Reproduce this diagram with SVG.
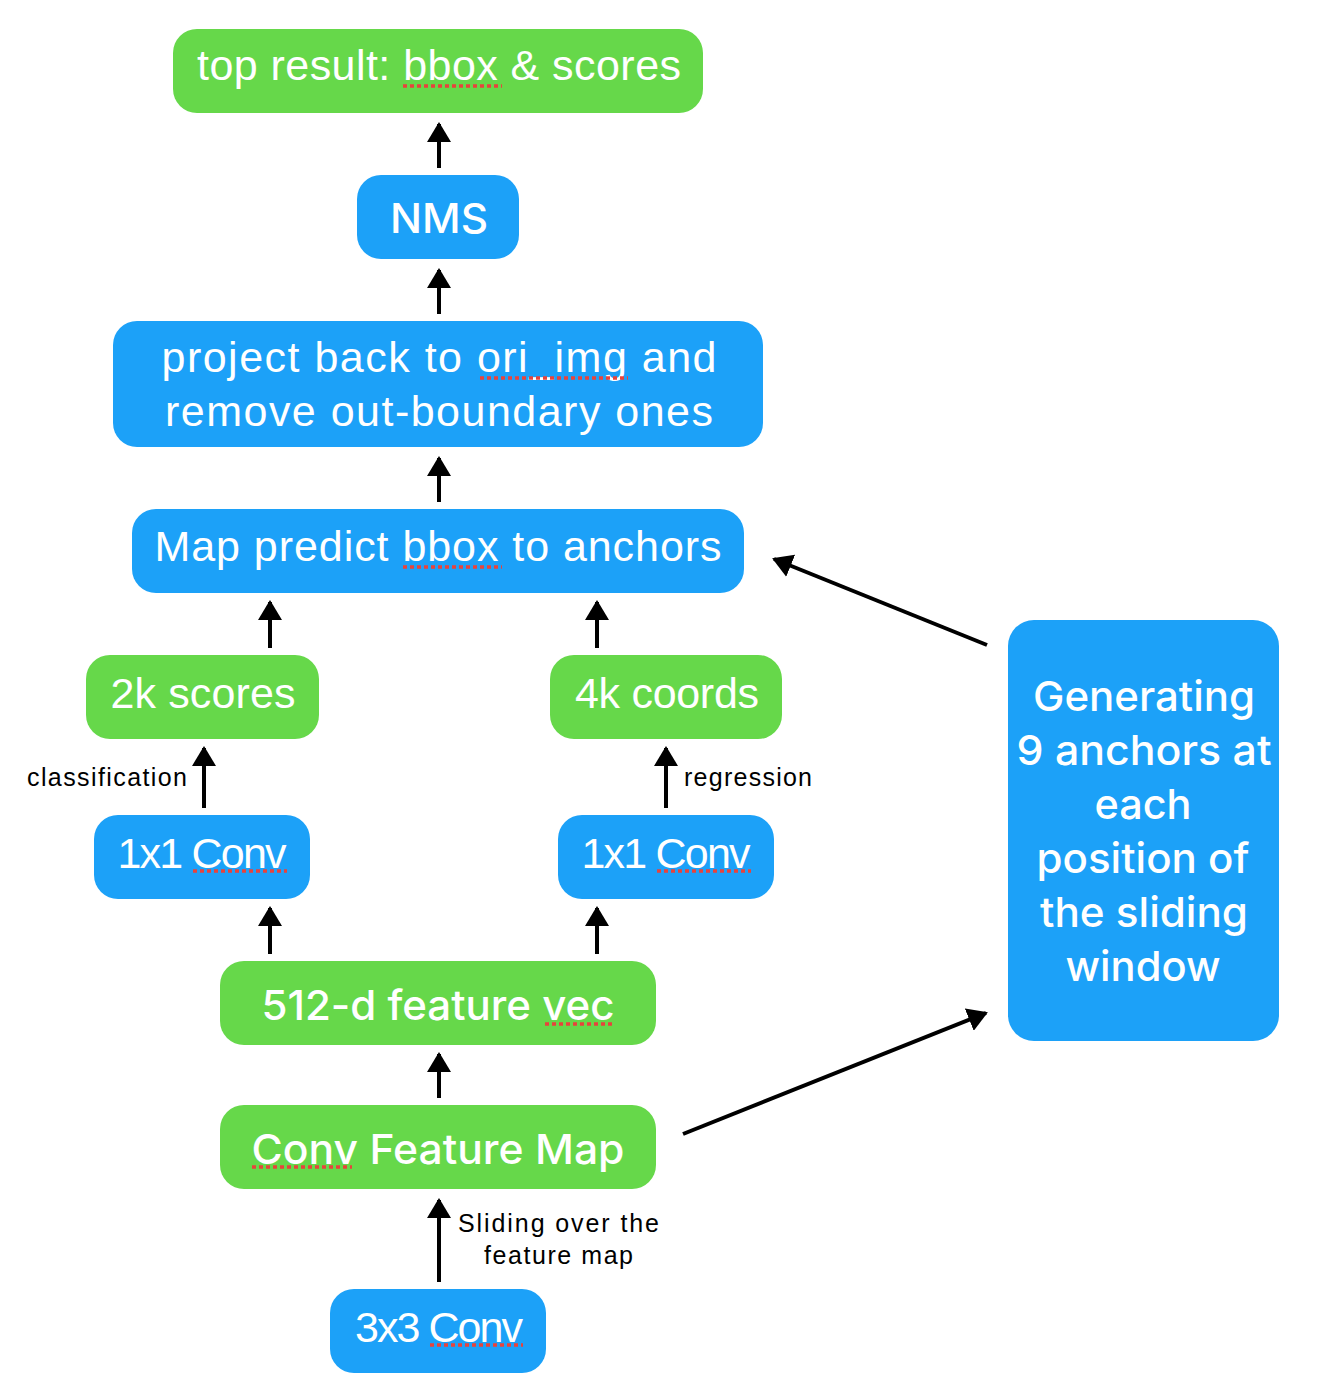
<svg xmlns="http://www.w3.org/2000/svg" width="1342" height="1394" viewBox="0 0 1342 1394">
<defs>
<style>
.g{fill:#66d84a}
.b{fill:#1ca1f8}
.t{font-family:"Liberation Sans",Arial,sans-serif;font-size:43px;fill:#fff;text-anchor:middle}
.m{font-family:Inter,"Liberation Sans",Arial,sans-serif;font-size:41px;font-weight:500;fill:#fff;text-anchor:middle}
.s{font-family:"Liberation Sans",Arial,sans-serif;font-size:25px;fill:#000}
.c{stroke:#000;stroke-width:4;fill:none}
.u{stroke:#e8433c;stroke-width:3.5;stroke-dasharray:4 3;fill:none}
</style>
<marker id="ah" markerWidth="6" markerHeight="6" refX="4.5" refY="3" orient="auto" markerUnits="strokeWidth">
<path d="M0,0 L5,3 L0,6 z" fill="#000"/>
</marker>
</defs>
<rect width="1342" height="1394" fill="#fff"/>
<g id="connectors">
<line class="c" x1="439" y1="168" x2="439" y2="124" marker-end="url(#ah)"/>
<line class="c" x1="439" y1="314" x2="439" y2="270" marker-end="url(#ah)"/>
<line class="c" x1="439" y1="502" x2="439" y2="458" marker-end="url(#ah)"/>
<line class="c" x1="270" y1="648" x2="270" y2="602" marker-end="url(#ah)"/>
<line class="c" x1="597" y1="648" x2="597" y2="602" marker-end="url(#ah)"/>
<line class="c" x1="204" y1="808" x2="204" y2="748" marker-end="url(#ah)"/>
<line class="c" x1="666" y1="808" x2="666" y2="748" marker-end="url(#ah)"/>
<line class="c" x1="270" y1="954" x2="270" y2="908" marker-end="url(#ah)"/>
<line class="c" x1="597" y1="954" x2="597" y2="908" marker-end="url(#ah)"/>
<line class="c" x1="439" y1="1098" x2="439" y2="1054" marker-end="url(#ah)"/>
<line class="c" x1="439" y1="1282" x2="439" y2="1200" marker-end="url(#ah)"/>
<line class="c" x1="987" y1="645" x2="774" y2="559" marker-end="url(#ah)"/>
<line class="c" x1="683" y1="1134" x2="986" y2="1013" marker-end="url(#ah)"/>
<text class="s" x="27" y="786" textLength="160" lengthAdjust="spacing">classification</text>
<text class="s" x="684" y="786" textLength="128" lengthAdjust="spacing">regression</text>
<text class="s" x="458" y="1232" textLength="201" lengthAdjust="spacing">Sliding over the</text>
<text class="s" x="484" y="1264" textLength="149" lengthAdjust="spacing">feature map</text>
</g>
<g id="n-top">
<rect class="g" x="173" y="29" width="530" height="84" rx="24"/>
<text class="t" x="439" y="80" textLength="484" lengthAdjust="spacing">top result: bbox &amp; scores</text>
<line class="u" x1="403" y1="86" x2="502" y2="86"/>
</g>
<g id="n-nms">
<rect class="b" x="357" y="175" width="162" height="84" rx="24"/>
<text class="m" x="439" y="233" textLength="98" lengthAdjust="spacingAndGlyphs">NMS</text>
</g>
<g id="n-project">
<rect class="b" x="113" y="321" width="650" height="126" rx="24"/>
<text class="t" x="439" y="372" textLength="555" lengthAdjust="spacing">project back to ori_img and</text>
<text class="t" x="439" y="426" textLength="548" lengthAdjust="spacing">remove out-boundary ones</text>
<line class="u" x1="480" y1="378" x2="628" y2="378"/>
</g>
<g id="n-map">
<rect class="b" x="132" y="509" width="612" height="84" rx="24"/>
<text class="t" x="438" y="561" textLength="567" lengthAdjust="spacing">Map predict bbox to anchors</text>
<line class="u" x1="403" y1="567" x2="502" y2="567"/>
</g>
<g id="n-scores">
<rect class="g" x="86" y="655" width="233" height="84" rx="24"/>
<text class="t" x="203" y="708" textLength="185" lengthAdjust="spacing">2k scores</text>
</g>
<g id="n-coords">
<rect class="g" x="550" y="655" width="232" height="84" rx="24"/>
<text class="t" x="667" y="708" textLength="184" lengthAdjust="spacing">4k coords</text>
</g>
<g id="n-conv1l">
<rect class="b" x="94" y="815" width="216" height="84" rx="24"/>
<text class="t" x="202" y="868" textLength="169" lengthAdjust="spacing">1x1 Conv</text>
<line class="u" x1="193" y1="871" x2="287" y2="871"/>
</g>
<g id="n-conv1r">
<rect class="b" x="558" y="815" width="216" height="84" rx="24"/>
<text class="t" x="666" y="868" textLength="169" lengthAdjust="spacing">1x1 Conv</text>
<line class="u" x1="657" y1="871" x2="751" y2="871"/>
</g>
<g id="n-vec">
<rect class="g" x="220" y="961" width="436" height="84" rx="24"/>
<text class="m" x="438" y="1020" textLength="353" lengthAdjust="spacingAndGlyphs">512-d feature vec</text>
<line class="u" x1="545" y1="1024" x2="614" y2="1024"/>
</g>
<g id="n-fmap">
<rect class="g" x="220" y="1105" width="436" height="84" rx="24"/>
<text class="m" x="438" y="1164" textLength="373" lengthAdjust="spacingAndGlyphs">Conv Feature Map</text>
<line class="u" x1="252" y1="1167" x2="352" y2="1167"/>
</g>
<g id="n-conv3">
<rect class="b" x="330" y="1289" width="216" height="84" rx="24"/>
<text class="t" x="439" y="1342" textLength="168" lengthAdjust="spacing">3x3 Conv</text>
<line class="u" x1="430" y1="1345" x2="523" y2="1345"/>
</g>
<g id="n-gen">
<rect class="b" x="1008" y="620" width="271" height="421" rx="26"/>
<text class="m" x="1144" y="711" textLength="222" lengthAdjust="spacingAndGlyphs">Generating</text>
<text class="m" x="1144" y="765" textLength="255" lengthAdjust="spacingAndGlyphs">9 anchors at</text>
<text class="m" x="1143" y="819" textLength="97" lengthAdjust="spacingAndGlyphs">each</text>
<text class="m" x="1143" y="873" textLength="213" lengthAdjust="spacingAndGlyphs">position of</text>
<text class="m" x="1144" y="927" textLength="208" lengthAdjust="spacingAndGlyphs">the sliding</text>
<text class="m" x="1143" y="981" textLength="155" lengthAdjust="spacingAndGlyphs">window</text>
</g>
</svg>
